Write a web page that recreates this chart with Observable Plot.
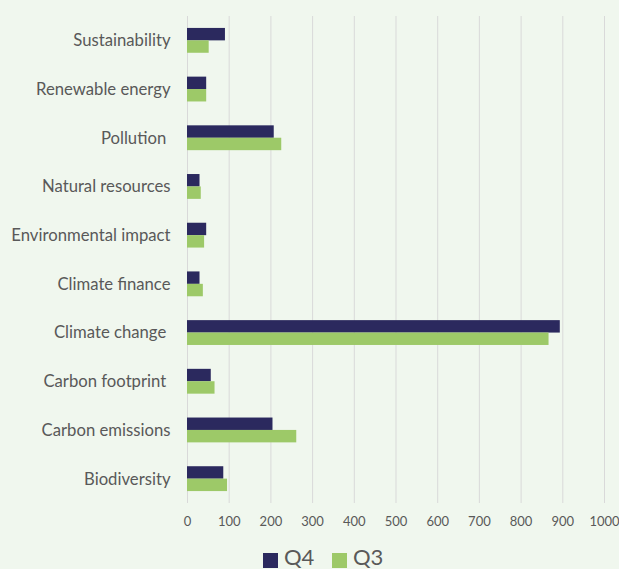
<!DOCTYPE html>
<html>
<head>
<meta charset="utf-8">
<script src="https://cdn.jsdelivr.net/npm/d3@7"></script>
<script src="https://cdn.jsdelivr.net/npm/@observablehq/plot@0.6"></script>
<style>
  html, body { margin: 0; padding: 0; background: #f0f7ee; }
  #chart { width: 619px; height: 569px; position: relative; overflow: hidden; background: #f0f7ee; }
  #chart svg text { white-space: pre; }
  .legend { position: absolute; top: 540px; left: 0; width: 619px; height: 29px;
            font-family: Lato, sans-serif; font-size: 22px; color: #595959; }
  .legend .sw { position: absolute; top: 13px; width: 15px; height: 15px; }
  .legend .lab { position: absolute; top: 5px; line-height: 24px; }
</style>
</head>
<body>
<div id="chart"></div>
<script>
// Mentions per topic, two quarters
const topics = [
  "Biodiversity", "Carbon emissions", "Carbon footprint ", "Climate change ",
  "Climate finance", "Environmental impact", "Natural resources", "Pollution ",
  "Renewable energy", "Sustainability"
];
const q4 = [87, 205, 57, 894, 30, 46, 30, 208, 46, 91];
const q3 = [96, 262, 66, 867, 38, 41, 33, 226, 46, 52];
const xTicks = [0, 100, 200, 300, 400, 500, 600, 700, 800, 900, 1000];
const series = ["Q4", "Q3"];
const colors = ["#2b295e", "#9dc968"];

const rowsQ4 = topics.map((t, i) => ({topic: t, value: q4[i]}));
const rowsQ3 = topics.map((t, i) => ({topic: t, value: q3[i]}));

const half = 12.4;

const chart = Plot.plot({
  width: 619,
  height: 540,
  marginLeft: 187,
  marginRight: 15,
  marginTop: 16,
  marginBottom: 37,
  style: {background: "#f0f7ee", fontFamily: "Lato, sans-serif", color: "#595959"},
  x: {domain: [0, 1000], ticks: xTicks, axis: null},
  y: {domain: topics.slice().reverse(), paddingInner: 0.49, paddingOuter: 0.245, round: false, axis: null},
  marks: [
    Plot.ruleX(xTicks, {stroke: "#d9d9d9", strokeWidth: 1}),
    Plot.barX(rowsQ4, {x: "value", y: "topic", fill: colors[0], insetBottom: half}),
    Plot.barX(rowsQ3, {x: "value", y: "topic", fill: colors[1], insetTop: half}),
    Plot.axisY({tickSize: 0, tickPadding: 17, fontSize: 16.7, label: null, fill: "#595959"}),
    Plot.axisX({ticks: xTicks, tickSize: 0, tickPadding: 13, fontSize: 13, label: null, fill: "#595959", tickFormat: d => String(d)})
  ]
});

const root = document.getElementById("chart");
root.appendChild(chart);

// Legend below the plot
const legend = document.createElement("div");
legend.className = "legend";
const swatchLeft = [263, 332];
series.forEach((s, i) => {
  const sw = document.createElement("span");
  sw.className = "sw";
  sw.style.left = swatchLeft[i] + "px";
  sw.style.background = colors[i];
  const label = document.createElement("span");
  label.className = "lab";
  label.style.left = (swatchLeft[i] + 21) + "px";
  label.textContent = s;
  legend.appendChild(sw);
  legend.appendChild(label);
});
root.appendChild(legend);
</script>
</body>
</html>
